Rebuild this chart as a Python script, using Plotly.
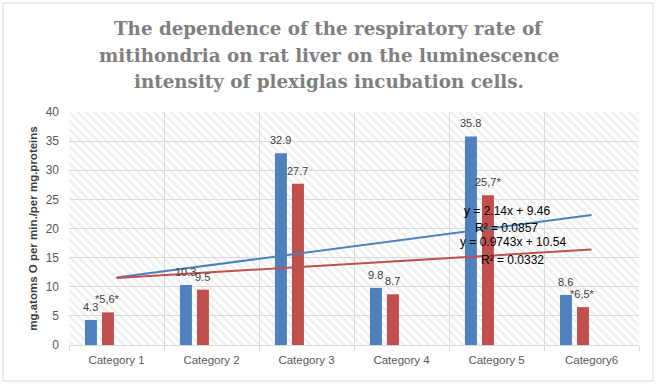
import numpy as np
import plotly.graph_objects as go

# ---- data ----
categories = ["Category 1", "Category 2", "Category 3", "Category 4", "Category 5", "Category6"]
series_blue = [4.3, 10.3, 32.9, 9.8, 35.8, 8.6]
series_red = [5.6, 9.5, 27.7, 8.7, 25.7, 6.5]
labels_blue = ["4.3", "10.3", "32.9", "9.8", "35.8", "8.6"]
labels_red = ["*5,6*", "9.5", "27.7", "8.7", "25,7*", "*6,5*"]
y_ticks = [0, 5, 10, 15, 20, 25, 30, 35, 40]

title_lines = ["The dependence of the respiratory rate of",
               "mitihondria on rat liver on the luminescence",
               "intensity of plexiglas incubation cells."]
y_title = "mg.atoms O per min./per mg.proteins"

BLUE = "#4f81bd"
RED = "#c0504d"
GRID = "#d9d9d9"

BAR_W = 0.126
OFF_BLUE = -0.332
OFF_RED = -0.153

# ---- linear trendlines (x = 1..n as in Excel) ----
xi = np.arange(1, len(categories) + 1)


def fit(vals):
    vals = np.asarray(vals, dtype=float)
    slope, intercept = np.polyfit(xi, vals, 1)
    pred = slope * xi + intercept
    r2 = 1 - np.sum((vals - pred) ** 2) / np.sum((vals - vals.mean()) ** 2)
    return slope, intercept, r2


sb, ib, rb = fit(series_blue)
sr, ir, rr = fit(series_red)

fig = go.Figure()

# hatched plot-area background
fig.add_trace(go.Bar(
    x=[categories[0]], y=[y_ticks[-1]], base=0, offset=-0.5, width=len(categories),
    marker=dict(color="rgba(0,0,0,0)", line=dict(width=0),
                pattern=dict(shape="\\", fgcolor="#dedede", bgcolor="rgba(0,0,0,0)",
                             size=6, solidity=0.4)),
    hoverinfo="skip", showlegend=False))

fig.add_trace(go.Bar(
    x=categories, y=series_blue, offset=OFF_BLUE, width=BAR_W,
    marker=dict(color=BLUE, line=dict(width=0)), showlegend=False))

fig.add_trace(go.Bar(
    x=categories, y=series_red, offset=OFF_RED, width=BAR_W,
    marker=dict(color=RED, line=dict(width=0)), showlegend=False))

fig.add_trace(go.Scatter(
    x=[categories[0], categories[-1]], y=[sb * xi[0] + ib, sb * xi[-1] + ib],
    mode="lines", line=dict(color=BLUE, width=2), showlegend=False, hoverinfo="skip"))
fig.add_trace(go.Scatter(
    x=[categories[0], categories[-1]], y=[sr * xi[0] + ir, sr * xi[-1] + ir],
    mode="lines", line=dict(color=RED, width=2), showlegend=False, hoverinfo="skip"))

# data labels above bars
lab_font = dict(size=11, color="#404040", family="Liberation Sans")
for i, (v, t) in enumerate(zip(series_blue, labels_blue)):
    fig.add_annotation(x=i + OFF_BLUE + BAR_W / 2, y=v, xref="x", yref="y", text=t,
                       showarrow=False, xanchor="center", yanchor="bottom", yshift=5,
                       font=lab_font)
for i, (v, t) in enumerate(zip(series_red, labels_red)):
    fig.add_annotation(x=i + OFF_RED + BAR_W / 2, y=v, xref="x", yref="y", text=t,
                       showarrow=False, xanchor="center", yanchor="bottom", yshift=5,
                       font=lab_font)

eq_font = dict(size=12, color="#000000", family="Liberation Sans")
eqs = [
    (4.11, 23.0, f"y = {sb:.2f}x + {ib:.2f}"),
    (4.11, 20.1, f"R² = {rb:.4f}"),
    (4.17, 17.7, f"y = {sr:.4f}x + {ir:.2f}"),
    (4.17, 14.6, f"R² = {rr:.4f}"),
]
for x, y, t in eqs:
    fig.add_annotation(x=x, y=y, xref="x", yref="y", text=t, showarrow=False,
                       font=eq_font, xanchor="center", yanchor="middle")

# title (one annotation per line)
for t, yy in zip(title_lines, [1.3605, 1.2446, 1.1288]):
    fig.add_annotation(x=0.456, y=yy, xref="paper", yref="paper", text="<b>" + t + "</b>",
                       showarrow=False, xanchor="center", yanchor="middle",
                       font=dict(family="DejaVu Serif", size=18.3, color="#7f7f7f"))

# outer chart border
fig.add_shape(type="rect", xref="paper", yref="paper",
              x0=-0.1158, x1=1.0246, y0=-0.1545, y1=1.4678,
              line=dict(color=GRID, width=1), fillcolor="rgba(0,0,0,0)")

fig.update_layout(
    width=668, height=387,
    margin=dict(l=69, r=29, t=112, b=42),
    paper_bgcolor="white", plot_bgcolor="white",
    barmode="overlay",
    font=dict(family="Liberation Sans"),
    xaxis=dict(type="category", categoryorder="array", categoryarray=categories,
               range=[-0.5, 5.5], tickson="boundaries", showgrid=True,
               gridcolor=GRID, gridwidth=1, ticks="outside", ticklen=5,
               tickcolor=GRID, showline=True, linecolor=GRID, linewidth=1,
               ticklabelstandoff=4,
               tickfont=dict(size=11.5, color="#595959")),
    yaxis=dict(range=[y_ticks[0], y_ticks[-1]], tickvals=y_ticks, showgrid=True,
               gridcolor=GRID, gridwidth=1, zeroline=False, showline=False,
               ticklabelstandoff=9,
               tickfont=dict(size=12, color="#595959"),
               title=dict(text="<b>" + y_title + "</b>",
                          font=dict(size=11.5, color="#404040"), standoff=5)),
)

fig.write_html("out.html", config={"displayModeBar": False},
               post_script="document.body.style.margin='0';")
